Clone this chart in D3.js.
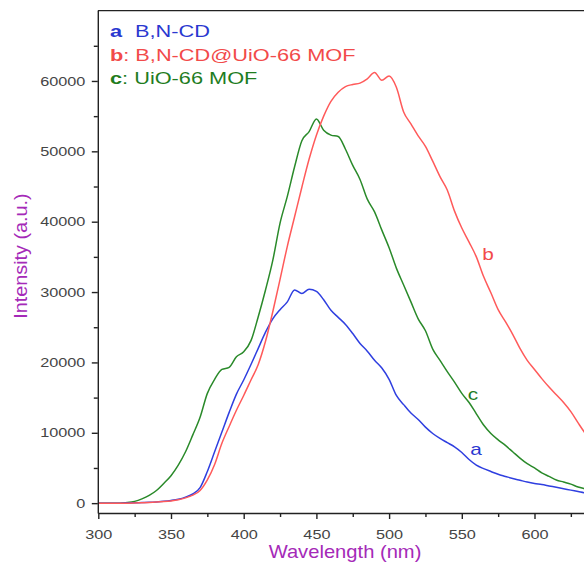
<!DOCTYPE html>
<html>
<head>
<meta charset="utf-8">
<script src="https://cdn.jsdelivr.net/npm/d3@7"></script>
<style>
  html, body { margin: 0; padding: 0; background: #fff; }
  svg { display: block; }
</style>
</head>
<body>
<script>
// ---------- DATA ----------
const wavelengths = [300,305,310,315,320,325,330,335,340,345,350,355,360,365,370,375,380,385,390,395,
  400,405,410,415,420,425,430,435,440,445,450,455,460,465,470,475,480,485,490,495,
  500,505,510,515,520,525,530,535,540,545,550,555,560,565,570,575,580,585,590,595,
  600,605,610,615,620,625,630,635,640,645,650];

const seriesA = [0,0,0,0,20,40,80,120,180,260,380,550,850,1300,2200,4500,7300,10100,12900,15500,
  17500,19700,22000,24300,26200,27500,28600,30300,29800,30400,30100,28900,27400,26400,25400,24100,22700,21600,20300,19200,
  17600,15300,14000,12800,11900,10800,9900,9200,8600,8000,7200,6200,5400,4900,4500,4100,3800,3500,3250,3000,
  2800,2650,2450,2250,2050,1850,1650,1450,1300,1150,1000];

const seriesB = [0,0,0,0,0,20,60,100,150,220,320,480,750,1150,1800,3300,5500,8500,10900,13200,
  15300,17500,19700,23000,27200,31800,36500,40700,44900,48900,52300,55000,57100,58400,59200,59500,59700,60300,61200,60100,
  60700,59100,55600,53900,52200,50700,48600,46400,44500,41500,39100,37100,35000,32200,29900,27500,25800,24000,22000,20300,
  19000,17700,16500,15400,14300,13000,11400,9900,8700,7500,6400];

const seriesC = [0,0,0,0,80,250,600,1100,1800,2800,3900,5400,7300,9700,12200,15600,17600,19000,19300,20800,
  21500,23100,26500,30300,34500,39800,43600,47800,51500,52800,54600,53000,52300,52100,50300,48000,46000,43200,41400,38800,
  36300,33400,31000,28600,26200,24500,21900,20300,18700,17200,15600,14300,12700,11100,9900,9000,8200,7300,6400,5600,
  5000,4300,3800,3300,3000,2700,2300,2050,1800,1600,1400];

const xMajorTicks = [300,350,400,450,500,550,600];
const xMinorTicks = [325,375,425,475,525,575,625];
const yMajorTicks = [0,10000,20000,30000,40000,50000,60000];
const yMinorTicks = [5000,15000,25000,35000,45000,55000,65000];

const seriesNames = ["B,N-CD", "B,N-CD@UiO-66 MOF", "UiO-66 MOF"];
const seriesLetters = ["a", "b", "c"];
const xTitle = "Wavelength (nm)";
const yTitle = "Intensity (a.u.)";

// ---------- STYLE ----------
const FONT = "'Liberation Sans', Arial, Helvetica, sans-serif";
const colors = { a: "#2f3fe0", b: "#ff5a5a", c: "#2a8a2a" };
const textColors = { a: "#2a38d0", b: "#f24a4a", c: "#1f7d1f" };
const titleColor = "#a52ab8";
const tickColor = "#444";

const W = 584, H = 562;
const svg = d3.select("body").append("svg").attr("width", W).attr("height", H)
  .style("font-family", FONT);

const x = d3.scaleLinear().domain([300, 700]).range([98.3, 679.9]);
const y = d3.scaleLinear().domain([-1400, 70000]).range([513, 10.6]);

function stretchedText(g, px, py, sx, opts) {
  const grp = g.append("g").attr("transform", `translate(${px},${py}) scale(${sx},1)`);
  return grp.append("text")
    .attr("font-size", opts.size)
    .attr("text-anchor", opts.anchor || "start")
    .attr("fill", opts.fill || "#000")
    .attr("font-weight", opts.weight || "normal");
}

// ---------- LINES ----------
const line = d3.line().x((d, i) => x(wavelengths[i])).y(d => y(d)).curve(d3.curveMonotoneX);
svg.append("clipPath").attr("id", "clip").append("rect")
  .attr("x", x(300)).attr("y", y(70000)).attr("width", x(700) - x(300)).attr("height", y(-1400) - y(70000));
const lines = svg.append("g").attr("clip-path", "url(#clip)");
[["c", seriesC], ["a", seriesA], ["b", seriesB]].forEach(([k, s]) => {
  lines.append("path").datum(s).attr("d", line)
    .attr("fill", "none").attr("stroke", colors[k]).attr("stroke-width", 1.5)
    .attr("stroke-linejoin", "round");
});

// ---------- AXES ----------
const axisColor = "#222";
const xAxisG = svg.append("g").attr("transform", `translate(0,${y(-1400)})`)
  .call(d3.axisBottom(x).tickValues(xMajorTicks).tickSize(6).tickSizeOuter(0).tickPadding(11).tickFormat(d3.format("d")));
xAxisG.selectAll("text").attr("font-size", 13).attr("fill", tickColor).attr("font-family", FONT)
  .attr("transform", "scale(1.25,1)");
svg.append("g").attr("transform", `translate(0,${y(-1400)})`)
  .call(d3.axisBottom(x).tickValues(xMinorTicks).tickSize(4).tickSizeOuter(0).tickFormat(""))
  .select(".domain").remove();

const yAxisG = svg.append("g").attr("transform", `translate(${x(300) - 0.5},0)`)
  .call(d3.axisLeft(y).tickValues(yMajorTicks).tickSize(6).tickSizeOuter(0).tickPadding(4).tickFormat(d3.format("d")));
yAxisG.selectAll("text").attr("font-size", 13).attr("fill", tickColor).attr("font-family", FONT)
  .attr("transform", "scale(1.25,1)");
svg.append("g").attr("transform", `translate(${x(300) - 0.5},0)`)
  .call(d3.axisLeft(y).tickValues(yMinorTicks).tickSize(4).tickSizeOuter(0).tickFormat(""))
  .select(".domain").remove();

svg.selectAll(".domain, .tick line").attr("stroke", axisColor).attr("stroke-width", 1.4);

svg.append("line").attr("x1", x(300) - 0.5).attr("x2", x(700)).attr("y1", y(70000)).attr("y2", y(70000))
  .attr("stroke", axisColor).attr("stroke-width", 1.4);

// ---------- TITLES ----------
stretchedText(svg, 345, 558, 1.12, { size: 18, anchor: "middle", fill: titleColor }).text(xTitle);
svg.append("g").attr("transform", `translate(27,256) rotate(-90) scale(1.1,1)`)
  .append("text").attr("font-size", 18).attr("text-anchor", "middle").attr("fill", titleColor).text(yTitle);

// ---------- LEGEND ----------
const legendSX = 1.36;
const legY = [36.5, 60.5, 83.5];
stretchedText(svg, 110, legY[0], legendSX, { size: 16, fill: textColors.a, weight: "bold" }).text(seriesLetters[0]);
stretchedText(svg, 135, legY[0], legendSX, { size: 16, fill: textColors.a }).text(seriesNames[0]);
[1, 2].forEach(i => {
  const k = seriesLetters[i];
  const t = stretchedText(svg, 110, legY[i], legendSX, { size: 16, fill: textColors[k] });
  t.append("tspan").attr("font-weight", "bold").text(k);
  t.append("tspan").text(": " + seriesNames[i]);
});

// ---------- CURVE LABELS ----------
const labelPositions = { b: [488, 260], c: [473, 400], a: [476, 455] };
Object.keys(labelPositions).forEach(k => {
  const [px, py] = labelPositions[k];
  stretchedText(svg, px, py, 1.3, { size: 16, anchor: "middle", fill: textColors[k] }).text(k);
});
</script>
</body>
</html>
